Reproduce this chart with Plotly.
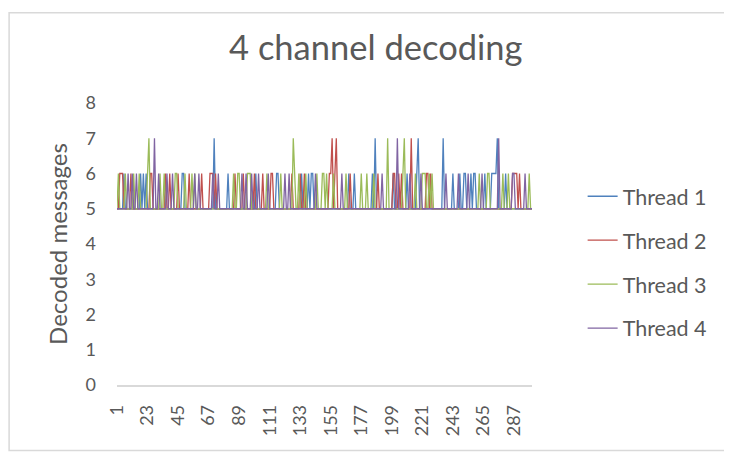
import plotly.graph_objects as go

# decoded messages per sample (10 samples per block)
thread_1 = ("5555565555 5555555656 5655555555 5555555555 5555555665 "
            "5555555555 5555555555 7555555555 6555555555 5555555555 "
            "6555555555 5555566555 5555555555 5556555565 6655555555 "
            "5555555555 5555555655 5655555555 5555657555 5555555556 "
            "5555555556 5555556755 5555555555 5555575555 5565555655 "
            "6655565665 5555565555 6666755555 6555555555 5555555555")
thread_2 = ("5566655555 6555555555 5555665555 5555565565 5555655555 "
            "5565555555 5655555666 5655555555 5555565555 5655555556 "
            "5555565555 5665555555 5555556555 5565565555 5555555555 "
            "5556675675 5555555565 5555555555 5555555565 5555555556 "
            "6556565555 5575555555 5556656555 5555555555 5555555555 "
            "5555555555 5555555555 5555555555 5555566665 6555555555")
thread_3 = ("5655556555 5565556555 5567555555 5655655555 5566555556 "
            "5555656555 5555555555 5555555555 5555655665 5555666555 "
            "5555555565 5555555565 5555555765 5655556555 5555655566 "
            "5655556555 5555565555 5555556555 6555565555 5555575555 "
            "5555556755 5555565555 6665565655 5555555555 5555555555 "
            "5555555555 5655555665 5555555565 5565555555 5555555655")
thread_4 = ("5555555565 5655655555 5555555755 6555556555 6555555555 "
            "5555556556 5555555556 5556555555 5555555555 6556555655 "
            "5565555556 5555555555 5655655555 5555555555 5556555555 "
            "5555555555 5565555555 5555555555 5555555555 5655555555 "
            "5575555555 5655555556 5555555555 5555555655 5555556555 "
            "5556555555 5556555555 5555575555 5555566555 5555655555")

series_names = ["Thread 1", "Thread 2", "Thread 3", "Thread 4"]
series_data = [thread_1, thread_2, thread_3, thread_4]
colors = ["#4F81BD", "#C0504D", "#9BBB59", "#8064A2"]

samples = list(range(1, 301))
x_ticks = list(range(1, 301, 22))
y_ticks = [0, 1, 2, 3, 4, 5, 6, 7, 8]

font = "Lato, Carlito, 'Liberation Sans', sans-serif"
grey = '#595959'

fig = go.Figure()

for name, data, color in zip(series_names, series_data, colors):
    values = [int(c) for c in data.replace(" ", "")]
    fig.add_trace(
        go.Scatter(
            x=samples,
            y=values,
            mode='lines',
            name=name,
            legendgroup=name,
            line=dict(color=color, width=1.3),
        )
    )

# the page body adds an 8px offset, so the figure is 8px smaller each way
fig.update_layout(
    width=724,
    height=444,
    paper_bgcolor='white',
    plot_bgcolor='white',
    margin=dict(l=109, r=200, t=95, b=66.5, autoexpand=False),
    font=dict(family=font, color=grey),
    title=dict(
        text='4 channel decoding',
        x=0.508, xanchor='center',
        y=0.91, yanchor='middle',
        font=dict(size=34.5, color=grey, family=font),
        automargin=False,
    ),
    legend=dict(
        x=1.122, xanchor='left',
        y=0.742, yanchor='top',
        font=dict(size=21.5, color=grey),
        tracegroupgap=13,
        bgcolor='rgba(0,0,0,0)',
    ),
    showlegend=True,
    # light frame around the whole chart
    shapes=[dict(
        type='rect', xref='paper', yref='paper',
        x0=-0.26, x1=1.472, y0=-0.232, y1=1.32,
        line=dict(color='#D9D9D9', width=1.5),
    )],
)

fig.update_xaxes(
    range=[1, 300],
    tickmode='array',
    tickvals=x_ticks,
    ticktext=[str(t) for t in x_ticks],
    tickangle=-90,
    tickfont=dict(size=18, color=grey),
    ticklabelstandoff=11,
    showgrid=False,
    zeroline=False,
    showline=True,
    linecolor='#D9D9D9',
    linewidth=1.5,
    ticks='',
    automargin=False,
)

fig.update_yaxes(
    range=[0, 8],
    tickmode='array',
    tickvals=y_ticks,
    tickfont=dict(size=18, color=grey),
    ticklabelstandoff=20,
    title=dict(text='Decoded messages', font=dict(size=24, color=grey), standoff=11),
    showgrid=False,
    zeroline=False,
    showline=False,
    ticks='',
    automargin=False,
)

fig.write_html("out.html")
